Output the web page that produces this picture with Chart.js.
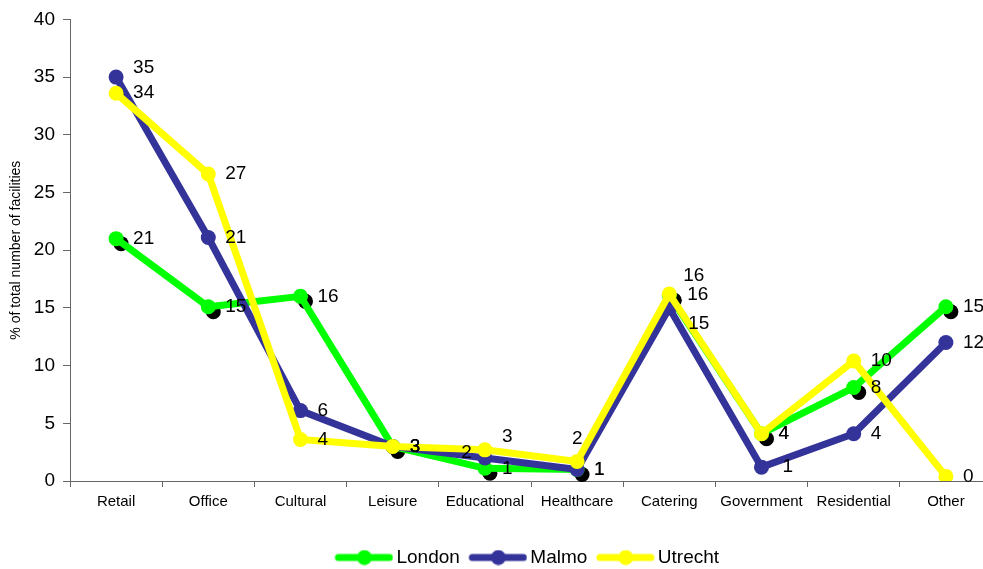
<!DOCTYPE html>
<html>
<head>
<meta charset="utf-8">
<script src="https://cdn.jsdelivr.net/npm/chart.js@4.4.1/dist/chart.umd.min.js"></script>
<style>
  html, body { margin: 0; padding: 0; background: #fff; overflow: hidden; }
  #wrap { width: 1054px; height: 577px; }
</style>
</head>
<body>
<div id="wrap"><canvas id="c" width="1054" height="577"></canvas></div>
<script>
// Share of facilities by type (% of total number of facilities)
const categories = ['Retail', 'Office', 'Cultural', 'Leisure', 'Educational', 'Healthcare', 'Catering', 'Government', 'Residential', 'Other'];
const seriesNames = ['London', 'Malmo', 'Utrecht'];
const london  = [21.0, 15.1, 16.0, 3.0, 1.1, 1.0, 16.1, 4.1, 8.1, 15.1];
const malmo   = [35.0, 21.1, 6.1, 3.0, 2.0, 1.0, 15.0, 1.2, 4.1, 12.0];
const utrecht = [33.6, 26.6, 3.6, 3.0, 2.7, 1.7, 16.2, 4.1, 10.4, 0.4];
const yMin = 0, yMax = 40, yStep = 5;

const colors = ['#00FF00', '#333399', '#FFFF00'];
const FONT = "'Liberation Sans', Arial, sans-serif";

// Label placement tweaks where values sit close together
const labelNudge = {
  'Malmo-0':   { dy: -9 },
  'Malmo-4':   { dx: -13, dy: -5, align: 'right' },
  'Utrecht-4': { dy: -13 },
  'Utrecht-5': { dx: -5, dy: -23 },
  'Utrecht-6': { dx: 14, dy: -18 },
  'London-6':  { dx: 18 },
  'Malmo-6':   { dx: 19, dy: 16 },
  'Malmo-7':   { dx: 21 }
};

// Legend swatch: thick line with a round marker in the middle
function makeSwatch(color) {
  const c = document.createElement('canvas');
  c.width = 65; c.height = 16;
  const g = c.getContext('2d');
  g.strokeStyle = color; g.lineWidth = 7; g.lineCap = 'round';
  g.beginPath(); g.moveTo(10, 8); g.lineTo(61, 8); g.stroke();
  g.fillStyle = color;
  g.beginPath(); g.arc(36, 8, 7.5, 0, Math.PI * 2); g.fill();
  return c;
}
const swatches = colors.map(makeSwatch);

// Black drop shadow under the London markers
const markerShadow = {
  id: 'markerShadow',
  beforeDatasetDraw(chart, args) {
    if (args.index !== 0) return;
    const ctx = chart.ctx;
    ctx.save();
    ctx.fillStyle = '#000';
    args.meta.data.forEach(p => {
      ctx.beginPath();
      ctx.arc(p.x + 5, p.y + 5, 7.5, 0, Math.PI * 2);
      ctx.fill();
    });
    ctx.restore();
  }
};

// Rounded value labels next to each point
const valueLabels = {
  id: 'valueLabels',
  afterDatasetsDraw(chart) {
    const ctx = chart.ctx;
    ctx.save();
    ctx.font = '19px ' + FONT;
    ctx.fillStyle = '#000';
    ctx.textBaseline = 'middle';
    chart.data.datasets.forEach((ds, i) => {
      const meta = chart.getDatasetMeta(i);
      meta.data.forEach((p, j) => {
        const n = labelNudge[ds.label + '-' + j] || {};
        const dx = n.dx !== undefined ? n.dx : 17;
        const dy = n.dy || 0;
        ctx.textAlign = n.align || 'left';
        ctx.fillText(Math.round(ds.data[j]).toString(), p.x + dx, p.y + dy);
      });
    });
    ctx.restore();
  }
};

const values = [london, malmo, utrecht];
const datasets = seriesNames.map((name, i) => ({
  label: name,
  data: values[i],
  borderColor: colors[i],
  backgroundColor: colors[i],
  pointBackgroundColor: colors[i],
  pointBorderColor: colors[i],
  borderWidth: 7,
  pointRadius: 7.5,
  pointBorderWidth: 0,
  pointHoverRadius: 7.5,
  tension: 0,
  order: 3 - i
}));

new Chart(document.getElementById('c'), {
  type: 'line',
  data: { labels: categories, datasets },
  plugins: [markerShadow, valueLabels],
  options: {
    responsive: false,
    animation: false,
    devicePixelRatio: 1,
    layout: { padding: { top: 19, left: 0, right: 0, bottom: 0 } },
    plugins: {
      tooltip: { enabled: false },
      legend: {
        position: 'bottom',
        labels: {
          usePointStyle: true,
          pointStyleWidth: 52,
          padding: 9,
          color: '#000',
          font: { family: FONT, size: 19 },
          sort: (a, b) => a.datasetIndex - b.datasetIndex,
          generateLabels(chart) {
            const items = Chart.defaults.plugins.legend.labels.generateLabels(chart);
            items.forEach(it => { it.pointStyle = swatches[it.datasetIndex]; });
            return items;
          }
        }
      }
    },
    scales: {
      x: {
        offset: true,
        grid: { display: true, offset: true, drawOnChartArea: false, drawTicks: true, tickLength: 6, color: '#666' },
        border: { display: true, color: '#666', width: 1 },
        ticks: { color: '#000', font: { family: FONT, size: 15 }, padding: 6, maxRotation: 0, autoSkip: false },
        afterFit(s) { s.height = 58; }
      },
      y: {
        min: yMin, max: yMax,
        ticks: { stepSize: yStep, color: '#000', font: { family: FONT, size: 19 }, padding: 8 },
        grid: { display: true, drawOnChartArea: false, drawTicks: true, tickLength: 7, color: '#666' },
        border: { display: true, color: '#666', width: 1 },
        title: {
          display: true,
          text: '% of total number of facilities',
          color: '#000',
          font: { family: FONT, size: 14 },
          padding: { top: 8, bottom: 0 }
        },
        afterFit(s) { s.width = 70; }
      },
      yRight: {
        position: 'right',
        display: true,
        ticks: { display: false },
        grid: { display: false },
        border: { display: false },
        afterFit(s) { s.width = 62; }
      }
    }
  }
});
</script>
</body>
</html>
